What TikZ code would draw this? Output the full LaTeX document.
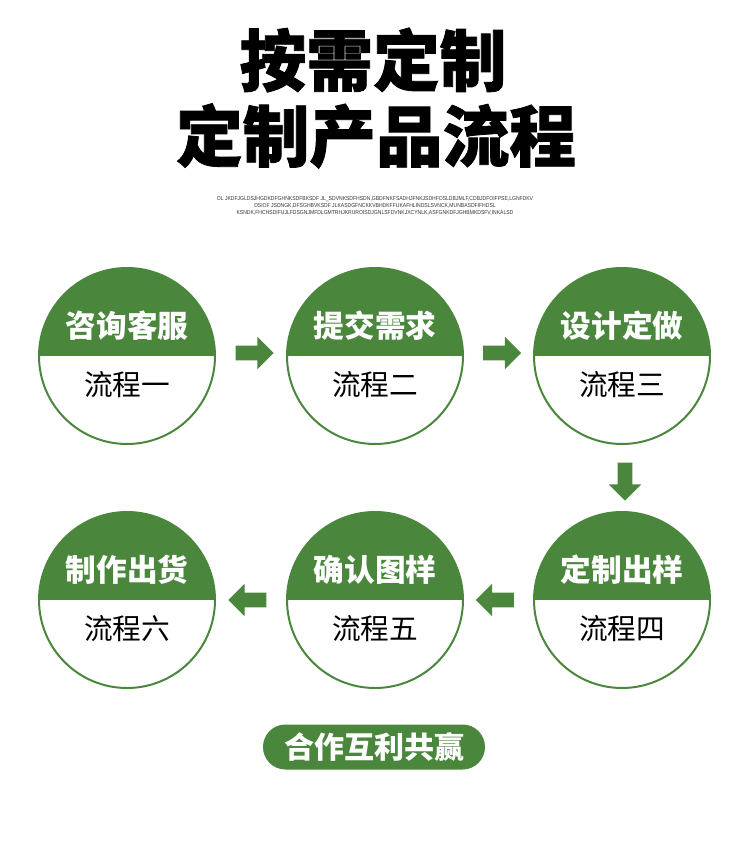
\documentclass[tikz,border=0pt]{standalone}
\usepackage{fontspec}
\setmainfont{Liberation Sans}
\newfontfamily\cjk{Noto Sans CJK SC}
\newfontfamily\cjkheavy{Noto Sans CJK SC}[BoldFeatures={FakeBold=1.2}]
\usetikzlibrary{shapes.arrows,calc}
\definecolor{gr}{HTML}{4A873D}
\definecolor{tiny}{HTML}{333333}
\begin{document}
\begin{tikzpicture}[x=0.75pt,y=-0.75pt,
  titletext/.style={inner sep=0pt, font=\cjkheavy\bfseries\fontsize{50pt}{56pt}\selectfont, text=black},
  stepcircle/.style={circle, draw=gr, line width=1.5pt, fill=white, minimum size=132pt, inner sep=0pt,
    path picture={\fill[gr] (path picture bounding box.north west) rectangle (path picture bounding box.east);}},
  toptext/.style={inner sep=0pt, text=white, font=\cjk\bfseries\fontsize{23pt}{26pt}\selectfont},
  bottext/.style={inner sep=0pt, text=black, font=\cjk\fontsize{21.5pt}{24pt}\selectfont},
  garrow/.style={single arrow, fill=gr, draw=none, inner sep=5.25pt,
    minimum height=28.5pt, minimum width=24pt, single arrow head extend=6.75pt},
  pill/.style={fill=gr, rounded corners=16.8pt, minimum width=166.5pt, minimum height=33.75pt,
    inner sep=0pt, text=white, font=\cjk\bfseries\fontsize{22.5pt}{25pt}\selectfont},
  smalltext/.style={inner sep=0pt, align=center, text=tiny, font=\fontsize{4.3pt}{5.25pt}\selectfont}
]
\useasboundingbox (0,0) rectangle (750,845);
\fill[white] (0,0) rectangle (750,845);

\node[titletext] (t1) at (373,60) {按需定制};
\node[titletext] (t2) at (376,136) {定制产品流程};

\node[smalltext, xscale=0.88, transform shape] (sub) at (375,206)
  {OL JKDFJGLDSJHGDKDFGHNKSDFBKSDF JL\_SDVNKSDFHSDN,GBDFNKFSADHJFNKJSDHFOSLDBJMLF,CDBJDFOIFPSE,LGNFDKV\\
   DSIOF JSDNGK,DFSGHBVKSDF JLKASDGFNCKKVBHDKFFUKAFHLINDSLSVNCK,MUNBASDFIFHDSL\\
   KSNDK,FHCHSDIFUJLFDSGNJMFDLGMTRHJKRUROISDJGNLSFDVNKJXCYNLK,ASFGNKDFJGHBMKDSFV,INKALSD};

% circles
\node[stepcircle] (s1) at (127,356) {};
\node[stepcircle] (s2) at (375,356) {};
\node[stepcircle] (s3) at (622,356) {};
\node[stepcircle] (s4) at (622,600) {};
\node[stepcircle] (s5) at (375,600) {};
\node[stepcircle] (s6) at (127,600) {};

\node[toptext] (s1t) at ($(s1.center)+(0,-30)$) {咨询客服};
\node[bottext] (s1b) at ($(s1.center)+(0,29)$) {流程一};
\node[toptext] (s2t) at ($(s2.center)+(0,-30)$) {提交需求};
\node[bottext] (s2b) at ($(s2.center)+(0,29)$) {流程二};
\node[toptext] (s3t) at ($(s3.center)+(0,-30)$) {设计定做};
\node[bottext] (s3b) at ($(s3.center)+(0,29)$) {流程三};
\node[toptext] (s4t) at ($(s4.center)+(0,-30)$) {定制出样};
\node[bottext] (s4b) at ($(s4.center)+(0,29)$) {流程四};
\node[toptext] (s5t) at ($(s5.center)+(0,-30)$) {确认图样};
\node[bottext] (s5b) at ($(s5.center)+(0,29)$) {流程五};
\node[toptext] (s6t) at ($(s6.center)+(0,-30)$) {制作出货};
\node[bottext] (s6b) at ($(s6.center)+(0,29)$) {流程六};

% arrows
\node[garrow] (a12) at ($(s1.east)!0.5!(s2.west)+(0,-3)$) {};
\node[garrow] (a23) at ($(s2.east)!0.5!(s3.west)+(0,-3)$) {};
\node[garrow, shape border rotate=270] (a34) at ($(s3.south)!0.5!(s4.north)+(3,0)$) {};
\node[garrow, shape border rotate=180] (a45) at ($(s4.west)!0.5!(s5.east)$) {};
\node[garrow, shape border rotate=180] (a56) at ($(s5.west)!0.5!(s6.east)$) {};

\node[pill] (p) at (374,747) {合作互利共赢};
\end{tikzpicture}
\end{document}
